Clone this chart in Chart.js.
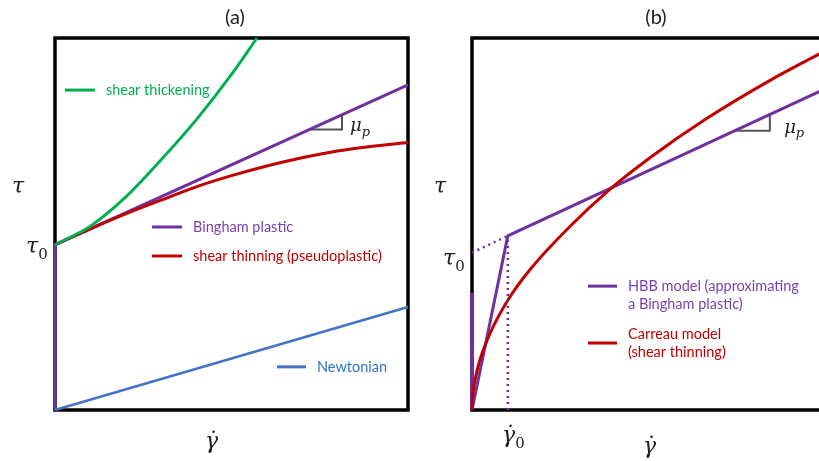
<!DOCTYPE html>
<html>
<head>
<meta charset="utf-8">
<script src="https://cdn.jsdelivr.net/npm/chart.js@4.4.0/dist/chart.umd.min.js"></script>
<style>
  html, body { margin: 0; padding: 0; background: #fff; overflow: hidden; width: 819px; height: 461px; }
  canvas { position: absolute; left: 0; top: 0; }
</style>
</head>
<body>
<canvas id="chartA" width="819" height="461"></canvas>
<canvas id="chartB" width="880" height="461"></canvas>
<script>
// ---- panel (a): flow curves, both axes in arbitrary units 0..10 ----
const binghamX = [0, 0, 10];
const binghamY = [0, 4.44, 8.74];
const thinningX = [0, 1, 2, 3, 4, 5, 6, 7, 8, 9, 10];
const thinningY = [4.44, 4.87, 5.27, 5.64, 6.0, 6.3, 6.56, 6.78, 6.96, 7.09, 7.19];
const thickeningX = [0, 1, 2, 3, 4, 5, 5.72];
const thickeningY = [4.44, 4.94, 5.72, 6.72, 7.8, 9.02, 10];
const newtonianX = [0, 10];
const newtonianY = [0, 2.77];
const slopeAX = [7.22, 8.13, 8.13];
const slopeAY = [7.54, 7.54, 7.94];

// ---- panel (b): HBB vs Carreau ----
const hbbX = [0, 1, 10];
const hbbY = [0, 4.68, 8.69];
const hbbAxisX = [0, 0];
const hbbAxisY = [0, 3.15];
const tau0LineX = [0, 1];
const tau0LineY = [4.23, 4.68];
const gamma0LineX = [1, 1];
const gamma0LineY = [0, 4.68];
const carreauX = [0, 0.03, 0.08, 0.2, 0.5, 1.0, 1.6, 2.7, 3.85, 5.0, 6.5, 8.4, 10];
const carreauY = [0, 0.47, 0.78, 1.28, 2.05, 2.95, 3.75, 4.9, 5.93, 6.8, 7.8, 8.9, 9.72];
const slopeBX = [7.35, 8.32, 8.32];
const slopeBY = [7.51, 7.51, 7.94];

const GREEN = '#00b050';
const PURPLE = '#7030a0';
const RED = '#c00000';
const BLUE = '#4472c4';

function pts(xs, ys) {
    return xs.map((x, i) => ({ x: x, y: ys[i] }));
}

function line(data, color, extra) {
    return Object.assign({
        data: data,
        borderColor: color,
        borderWidth: 3,
        pointRadius: 0,
        tension: 0,
        fill: false,
        clip: false,
    }, extra || {});
}

function frame(chart) {
    const a = chart.chartArea, ctx = chart.ctx;
    ctx.save();
    ctx.strokeStyle = '#000';
    ctx.lineWidth = 3.5;
    ctx.strokeRect(a.left, a.top, a.right - a.left, a.bottom - a.top);
    ctx.restore();
}

// legend swatch + text, placed in data units
function keyEntry(chart, x0, x1, y, color, textColor, texts, ys) {
    const sx = chart.scales.x, sy = chart.scales.y, ctx = chart.ctx;
    ctx.save();
    ctx.strokeStyle = color;
    ctx.lineWidth = 3;
    ctx.beginPath();
    ctx.moveTo(sx.getPixelForValue(x0), sy.getPixelForValue(y));
    ctx.lineTo(sx.getPixelForValue(x1), sy.getPixelForValue(y));
    ctx.stroke();
    ctx.fillStyle = textColor;
    ctx.font = '14.5px Lato';
    ctx.textBaseline = 'middle';
    texts.forEach((t, i) => ctx.fillText(t, sx.getPixelForValue(x1) + 11, sy.getPixelForValue(ys[i])));
    ctx.restore();
}

// italic symbol with an optional subscript
function mathLabel(ctx, main, sub, x, y, size, subItalic) {
    ctx.save();
    ctx.fillStyle = '#222';
    ctx.textBaseline = 'alphabetic';
    ctx.textAlign = 'left';
    ctx.font = 'italic ' + size + 'px "DejaVu Serif"';
    ctx.fillText(main, x, y);
    const w = ctx.measureText(main).width;
    if (sub) {
        ctx.font = (subItalic ? 'italic ' : '') + Math.round(size * 0.7) + 'px "DejaVu Serif"';
        ctx.fillText(sub, x + w, y + size * 0.25);
    }
    ctx.restore();
}

function title(ctx, text, cx, y) {
    ctx.save();
    ctx.fillStyle = '#222';
    ctx.font = '20px Lato';
    ctx.textAlign = 'center';
    ctx.fillText(text, cx, y);
    ctx.restore();
}

const hiddenScales = {
    x: { type: 'linear', min: 0, max: 10, display: false },
    y: { type: 'linear', min: 0, max: 10, display: false },
};

new Chart(document.getElementById('chartA'), {
    type: 'line',
    data: {
        datasets: [
            line(pts(newtonianX, newtonianY), BLUE, { borderWidth: 2.5 }),
            line(pts(thickeningX, thickeningY), GREEN, { cubicInterpolationMode: 'monotone' }),
            line(pts(thinningX, thinningY), RED, { cubicInterpolationMode: 'monotone' }),
            line(pts(binghamX, binghamY), PURPLE),
            line(pts(slopeAX, slopeAY), '#555', { borderWidth: 2 }),
        ],
    },
    options: {
        responsive: false,
        animation: false,
        layout: { padding: { left: 55, top: 38, right: 411, bottom: 51 } },
        plugins: { legend: { display: false }, tooltip: { enabled: false } },
        scales: hiddenScales,
    },
    plugins: [{
        id: 'decorA',
        beforeDatasetsDraw(chart) { frame(chart); },
        afterDatasetsDraw(chart) {
            const ctx = chart.ctx, sx = chart.scales.x, sy = chart.scales.y;
            keyEntry(chart, 0.28, 1.13, 8.6, GREEN, GREEN, ['shear thickening'], [8.6]);
            keyEntry(chart, 2.75, 3.6, 4.92, PURPLE, '#7b3fb0', ['Bingham plastic'], [4.92]);
            keyEntry(chart, 2.75, 3.6, 4.14, RED, RED, ['shear thinning (pseudoplastic)'], [4.14]);
            keyEntry(chart, 6.29, 7.11, 1.16, BLUE, '#2e75c6', ['Newtonian'], [1.16]);
            mathLabel(ctx, 'μ', 'p', sx.getPixelForValue(8.36), sy.getPixelForValue(7.5), 18, true);
            title(ctx, '(a)', 235, 24);
            mathLabel(ctx, 'τ', '', 12, 193, 22);
            mathLabel(ctx, 'τ', '0', 26, 253, 22);
            mathLabel(ctx, 'γ̇', '', 205, 448, 22);
        },
    }],
});

new Chart(document.getElementById('chartB'), {
    type: 'line',
    data: {
        datasets: [
            line(pts(tau0LineX, tau0LineY), PURPLE, { borderWidth: 2.5, borderDash: [2, 4] }),
            line(pts(gamma0LineX, gamma0LineY), PURPLE, { borderWidth: 2.5, borderDash: [2, 4] }),
            line(pts(carreauX, carreauY), RED, { cubicInterpolationMode: 'monotone' }),
            line(pts(hbbX, hbbY), PURPLE),
            line(pts(hbbAxisX, hbbAxisY), PURPLE, { borderWidth: 3.5 }),
            line(pts(slopeBX, slopeBY), '#555', { borderWidth: 2 }),
        ],
    },
    options: {
        responsive: false,
        animation: false,
        layout: { padding: { left: 472, top: 38, right: 50, bottom: 51 } },
        plugins: { legend: { display: false }, tooltip: { enabled: false } },
        scales: hiddenScales,
    },
    plugins: [{
        id: 'decorB',
        beforeDatasetsDraw(chart) { frame(chart); },
        afterDatasetsDraw(chart) {
            const ctx = chart.ctx, sx = chart.scales.x, sy = chart.scales.y;
            keyEntry(chart, 3.24, 4.05, 3.33, PURPLE, '#7b3fb0',
                ['HBB model (approximating', 'a Bingham plastic)'], [3.33, 2.85]);
            keyEntry(chart, 3.24, 4.05, 1.8, RED, RED,
                ['Carreau model', '(shear thinning)'], [2.04, 1.56]);
            mathLabel(ctx, 'μ', 'p', sx.getPixelForValue(8.72), sy.getPixelForValue(7.45), 18, true);
            title(ctx, '(b)', 656, 24);
            mathLabel(ctx, 'τ', '', 434, 193, 22);
            mathLabel(ctx, 'τ', '0', 443, 265, 22);
            mathLabel(ctx, 'γ̇', '0', 502, 442, 22);
            mathLabel(ctx, 'γ̇', '', 643, 453, 22);
        },
    }],
});
</script>
</body>
</html>
